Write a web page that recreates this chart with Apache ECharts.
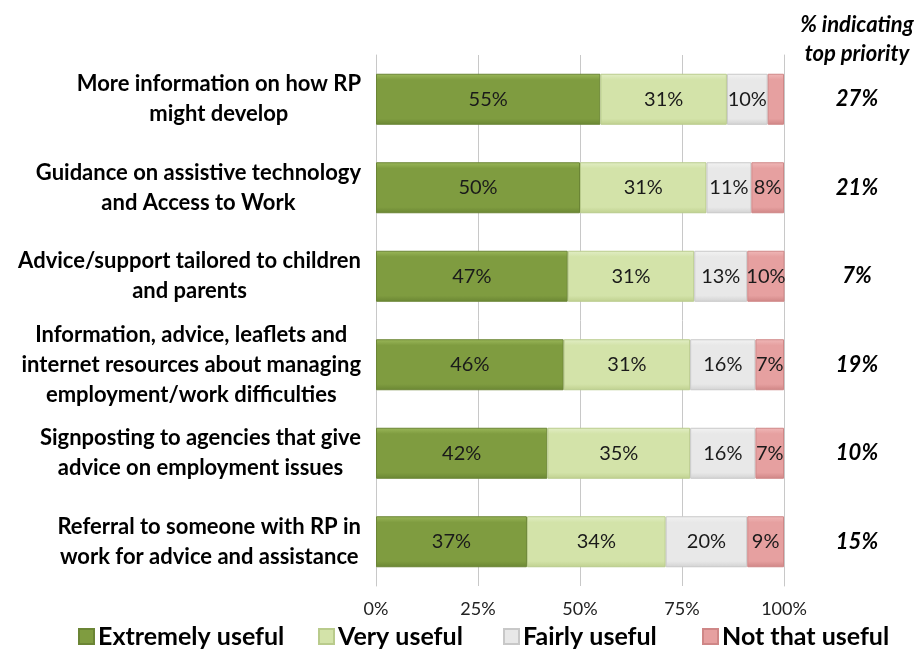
<!DOCTYPE html>
<html><head><meta charset="utf-8">
<script src="https://cdn.jsdelivr.net/npm/echarts@6/dist/echarts.min.js"></script>
<style>html,body{margin:0;padding:0;background:#fff}#c{width:915px;height:651px}</style>
</head><body><div id="c"></div>
<script>
const categories = [
  "More information on how RP\nmight develop",
  "Guidance on assistive technology\nand Access to Work",
  "Advice/support tailored to children\nand parents",
  "Information, advice, leaflets and\ninternet resources about managing\nemployment/work difficulties",
  "Signposting to agencies that give\nadvice on employment issues",
  "Referral to someone with RP in\nwork for advice and assistance"
];
const extremelyUseful = [55, 50, 47, 46, 42, 37];
const veryUseful = [31, 31, 31, 31, 35, 34];
const fairlyUseful = [10, 11, 13, 16, 16, 20];
const notThatUseful = [4, 8, 10, 7, 7, 9];
const topPriority = ["27%", "21%", "7%", "19%", "10%", "15%"];
const xTicks = ["0%", "25%", "50%", "75%", "100%"];
const seriesNames = ["Extremely useful", "Very useful", "Fairly useful", "Not that useful"];

const FONT = "Lato";
function grad(top, mid, bot) {
  return new echarts.graphic.LinearGradient(0, 0, 0, 1, [
    {offset: 0, color: top}, {offset: 0.12, color: mid}, {offset: 0.88, color: mid}, {offset: 1, color: bot}
  ]);
}
const styles = [
  {color: grad('#9bb85a', '#7f9c40', '#6a8633'), borderColor: '#6b8535'},
  {color: grad('#e2eec6', '#d3e3a9', '#bfd08f'), borderColor: '#b9cb8c'},
  {color: grad('#f3f3f3', '#e8e8e8', '#d2d2d2'), borderColor: '#c8c8c8'},
  {color: grad('#f0b8b8', '#e6a0a0', '#cf8585'), borderColor: '#cf8787'}
];
const dataSets = [extremelyUseful, veryUseful, fairlyUseful, notThatUseful];
const legendLeft = [73, 313, 498, 697];

const chart = echarts.init(document.getElementById('c'), null, {renderer: 'canvas'});
chart.setOption({
  animation: false,
  textStyle: {fontFamily: FONT},
  title: {
    text: "% indicating\ntop priority",
    left: 852, top: 5, textAlign: 'center',
    textStyle: {fontFamily: FONT, fontSize: 22, fontWeight: 'bold', fontStyle: 'italic', color: '#000', lineHeight: 29}
  },
  legend: seriesNames.map((n, i) => ({
    bottom: -3, left: legendLeft[i],
    itemWidth: 15, itemHeight: 15, itemGap: 0,
    icon: 'rect',
    textStyle: {fontFamily: FONT, fontSize: 25, fontWeight: 'bold', color: '#000', padding: [0, 0, 0, -1]},
    data: [n]
  })),
  grid: {left: 376, right: 131, top: 55, bottom: 65},
  xAxis: {
    type: 'value', min: 0, max: 100, interval: 25,
    axisLabel: {formatter: v => xTicks[v / 25], fontSize: 18, color: '#222', margin: 14, fontFamily: FONT},
    axisLine: {show: false}, axisTick: {show: false},
    splitLine: {lineStyle: {color: '#c8c8c8', width: 1}}
  },
  yAxis: [{
    type: 'category', inverse: true, data: categories,
    axisLine: {show: true, lineStyle: {color: '#c8c8c8'}}, axisTick: {show: false},
    axisLabel: {
      margin: 15, align: 'right', color: '#000',
      formatter: v => v.split('\n').map(l => '{a|' + l + '}').join('\n'),
      rich: {a: {align: 'center', fontFamily: FONT, fontSize: 22, fontWeight: 'bold', color: '#000', lineHeight: 30}}
    }
  }, {
    type: 'category', inverse: true, position: 'right', data: topPriority,
    axisLine: {show: true, lineStyle: {color: '#c8c8c8'}}, axisTick: {show: false},
    axisLabel: {margin: 73, align: 'center', fontFamily: FONT, fontSize: 22, fontWeight: 'bold', fontStyle: 'italic', color: '#000'}
  }],
  series: dataSets.map((d, i) => ({
    name: seriesNames[i], type: 'bar', stack: 'all', barWidth: 51,
    data: d,
    itemStyle: Object.assign({borderWidth: 1}, styles[i]),
    label: {
      show: true, position: 'inside', fontFamily: FONT, fontSize: 20, color: '#1a1a1a',
      formatter: p => p.value >= 5 ? p.value + '%' : ''
    }
  }))
});
</script></body></html>
